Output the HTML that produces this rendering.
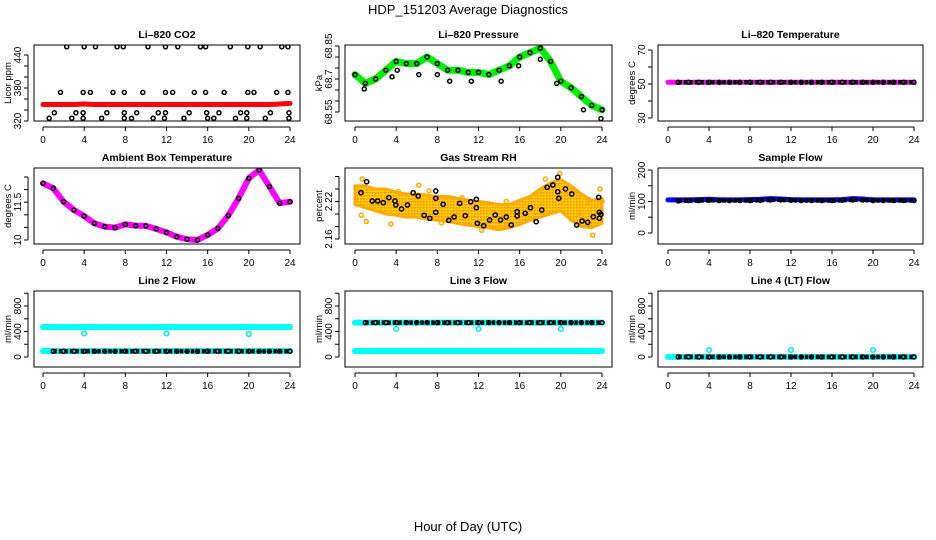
<!DOCTYPE html>
<html><head><meta charset="utf-8"><style>
body{margin:0;background:#fff;}
svg{display:block;font-family:"Liberation Sans",sans-serif;}
</style></head><body>
<svg id="chart" width="936" height="540" viewBox="0 0 936 540">
<text x="468" y="14" text-anchor="middle" font-size="13">HDP_151203  Average Diagnostics</text>
<text x="468" y="531" text-anchor="middle" font-size="13">Hour of Day (UTC)</text>
</svg>
<script>
// ---- data ----
const hours = [0,1,2,3,4,5,6,7,8,9,10,11,12,13,14,15,16,17,18,19,20,21,22,23,24];
const co2Red = [350,350,350,350,351,350,350,350,350,350,350,350,350,350,350,350,350,350,350,350,350,350,350,351,352];
const co2Hours = [2.3,4.0,5.1,7.2,7.8,10.2,11.9,13.1,15.3,15.8,18.2,19.9,21.1,23.2,23.8, 1.7,3.9,4.6,6.8,7.9,9.7,11.9,12.6,14.7,15.8,17.6,19.9,20.5,22.7,23.8, 1.1,3.2,3.9,6.2,7.9,9.1,11.2,11.9,14.2,15.9,17.1,19.2,19.8,22.1,23.9, 0.6,2.8,3.9,5.7,7.9,8.6,10.7,11.8,13.7,16.0,16.6,18.7,19.8,21.6,23.9];
const co2Black = [455,455,455,455,455,455,455,455,455,455,455,455,455,455,455, 372,372,372,372,372,372,372,372,372,372,372,372,372,372,372, 335,335,335,335,335,335,335,335,335,335,335,335,335,335,335, 325,325,325,325,325,325,325,325,325,325,325,325,325,325,325];
const presGreen = [68.72,68.68,68.70,68.74,68.78,68.77,68.77,68.80,68.77,68.74,68.74,68.73,68.73,68.72,68.74,68.76,68.80,68.82,68.84,68.78,68.69,68.66,68.62,68.58,68.56];
const presOutHours = [0.9,3.6,4.1,6.2,8.0,9.2,11.3,14.2,15.9,18.0,19.6,22.2,23.9];
const presOut = [68.655,68.71,68.74,68.72,68.72,68.69,68.69,68.69,68.76,68.79,68.68,68.56,68.52];
const tempMag = [51,51,51,51,51,51,51,51,51,51,51,51,51,51,51,51,51,51,51,51,51,51,51,51,51];
const tempBlack = [51,51,51,51,51,51,51,51,51,51,51,51,51,51,51,51,51,51,51,51,51,51,51,51,51];
const ambient = [12.25,12.05,11.52,11.19,10.95,10.66,10.53,10.49,10.62,10.57,10.56,10.44,10.30,10.13,10.03,10.00,10.20,10.46,10.97,11.65,12.45,12.78,12.12,11.46,11.52];
const rhUpper = [2.245,2.245,2.24,2.24,2.235,2.232,2.232,2.23,2.228,2.228,2.225,2.222,2.22,2.218,2.215,2.215,2.222,2.228,2.24,2.25,2.255,2.245,2.232,2.222,2.225];
const rhLower = [2.215,2.21,2.205,2.2,2.198,2.195,2.195,2.192,2.19,2.188,2.185,2.182,2.18,2.178,2.175,2.178,2.183,2.19,2.195,2.2,2.205,2.19,2.18,2.178,2.185];
const rhOutHours = [0.6,0.7,1.1,3.5,4.2,6.2,7.2,8.4,10.4,12.3,13.5,14.8,14.7,16.7,18.5,19.9,21.2,21.8,22.6,23.1,23.8,24];
const rhOut = [2.198,2.256,2.188,2.184,2.236,2.246,2.237,2.186,2.226,2.174,2.178,2.182,2.22,2.211,2.256,2.265,2.238,2.2,2.22,2.166,2.24,2.22];
const rhBlackHours = [0.58,1.13,1.68,2.20,2.75,3.29,3.88,3.97,4.52,5.10,5.65,6.14,6.72,7.27,7.85,7.85,7.85,8.56,9.11,9.63,10.17,10.72,11.24,11.79,11.79,11.89,12.50,13.08,13.63,14.15,14.70,15.18,15.76,15.76,16.54,17.05,17.60,18.15,18.67,19.22,19.70,19.70,19.80,20.45,21.06,21.54,22.06,22.61,23.16,23.68,23.74,23.74,23.90];
const rhBlack = [2.2341,2.2517,2.2208,2.2208,2.2181,2.2261,2.2208,2.2144,2.2080,2.2144,2.2341,2.2288,2.1979,2.1931,2.2368,2.2251,2.2027,2.2155,2.1899,2.1952,2.2171,2.1973,2.2197,2.2235,2.2101,2.1851,2.1813,2.1904,2.1984,2.1904,2.1952,2.1824,2.2037,2.1968,2.2011,2.2101,2.1877,2.2064,2.2427,2.2464,2.2587,2.2357,2.2251,2.2400,2.2320,2.1824,2.1888,2.1867,2.1957,2.2267,2.2027,2.1931,2.1995];
const sampleBlue = [105,105,105,106,107,105,105,105,106,107,109,108,106,105,105,105,105,106,109,108,105,105,105,105,105];
const sampleBlack = [102,102,103,103,104,103,103,103,103,104,105,105,104,103,103,103,103,104,105,105,103,103,103,103,103];
const line2Hi = [470,470,470,470,470,470,470,470,470,470,470,470,470,470,470,470,470,470,470,470,470,470,470,470,470];
const line2Lo = [95,95,95,95,95,95,95,95,95,95,95,95,95,95,95,95,95,95,95,95,95,95,95,95,95];
const line2Black = [90,90,90,90,90,90,90,90,90,90,90,90,90,90,90,90,90,90,90,90,90,90,90,90,90];
const line2Out = [370,370,360];
const line3Hi = [540,540,540,540,540,540,540,540,540,540,540,540,540,540,540,540,540,540,540,540,540,540,540,540,540];
const line3Lo = [95,95,95,95,95,95,95,95,95,95,95,95,95,95,95,95,95,95,95,95,95,95,95,95,95];
const line3Black = [540,540,540,540,540,540,540,540,540,540,540,540,540,540,540,540,540,540,540,540,540,540,540,540,540];
const line3Out = [440,440,440];
const line4Cyan = [2,2,2,2,2,2,2,2,2,2,2,2,2,2,2,2,2,2,2,2,2,2,2,2,2];
const line4Black = [2,2,2,2,2,2,2,2,2,2,2,2,2,2,2,2,2,2,2,2,2,2,2,2,2];
const line4Out = [110,110,110];
const outHours = [4,12,20];
const xTickLabels = ["0","4","8","12","16","20","24"];

const NS="http://www.w3.org/2000/svg";
const svg=document.getElementById('chart');
function el(tag,attrs,parent){const e=document.createElementNS(NS,tag);for(const k in attrs)e.setAttribute(k,attrs[k]);(parent||svg).appendChild(e);return e;}

const cols=[{x0:34,x1:300,h0:43,h24:290},{x0:345,x1:612,h0:355,h24:602},{x0:658,x1:923,h0:668,h24:914}];
const rows=[{y0:45,y1:121},{y0:168,y1:244},{y0:291,y1:367}];

function panel(c,r,title,ylabel,vA,pA,vB,pB,ticks,labels,name){
  const C=cols[c],R=rows[r];
  const g=el('g',{});
  
  
  const xs=h=>C.h0+h*(C.h24-C.h0)/24;
  const ys=v=>pA+(v-vA)*(pB-pA)/(vB-vA);
  const clipId='clip'+c+r;
  const cp=el('clipPath',{id:clipId},g);el('rect',{x:C.x0,y:R.y0,width:C.x1-C.x0,height:R.y1-R.y0},cp);
  const plot=el('g',{'clip-path':'url(#'+clipId+')'},g);
  
  
  const box=el('rect',{x:C.x0,y:R.y0,width:C.x1-C.x0,height:R.y1-R.y0,fill:'none',stroke:'#000','stroke-width':1},g);
  
  
  const t=el('text',{x:(C.x0+C.x1)/2,y:R.y0-7,'text-anchor':'middle','font-size':10.5,'font-weight':'bold'},g);t.textContent=title;
  
  
  const yl=el('text',{transform:`translate(${C.x0-23},${(R.y0+R.y1)/2}) rotate(-90)`,'text-anchor':'middle','font-size':9.5},g);yl.textContent=ylabel;
  
  
  el('line',{x1:xs(0),x2:xs(24),y1:R.y1+6,y2:R.y1+6,stroke:'#000'},g);
  xTickLabels.forEach((lab,i)=>{const h=i*4;el('line',{x1:xs(h),x2:xs(h),y1:R.y1+6,y2:R.y1+10,stroke:'#000'},g);
    const tl=el('text',{x:xs(h),y:R.y1+22,'text-anchor':'middle','font-size':10},g);tl.textContent=lab;
    
    });
  el('line',{x1:C.x0-6,x2:C.x0-6,y1:ys(ticks[0]),y2:ys(ticks[ticks.length-1]),stroke:'#000'},g);
  ticks.forEach(v=>{el('line',{x1:C.x0-10,x2:C.x0-6,y1:ys(v),y2:ys(v),stroke:'#000'},g);});
  labels.forEach(v=>{const tl=el('text',{transform:`translate(${C.x0-13},${ys(v)}) rotate(-90)`,'text-anchor':'middle','font-size':10},g);tl.textContent=v;
    
    });
  return {g:plot,xs,ys};
}
function band(P,hs,vals,color,w,name){
  const pts=hs.map((h,i)=>P.xs(h)+','+P.ys(vals[i])).join(' ');
  const e=el('polyline',{points:pts,fill:'none',stroke:color,'stroke-width':w,'stroke-linejoin':'round','stroke-linecap':'round'},P.g);
  
  
}
function circles(P,hs,vals,color,r,name,dense){
  if(dense){const pts=hs.map((h,i)=>P.xs(h)+','+P.ys(vals[i])).join(' ');
    const d=el('polyline',{points:pts,fill:'none',stroke:color,'stroke-width':4.5,'stroke-dasharray':'3.5 2'},P.g);
    
    }
  hs.forEach((h,i)=>{const c=el('circle',{cx:P.xs(h),cy:P.ys(vals[i]),r:r,fill:'none',stroke:color,'stroke-width':1.5},P.g);
    
    });
}

let P=panel(0,0,'Li\u2013820 CO2','Licor ppm',320,121,440,55,[320,340,360,380,400,420,440],[320,380,440],'co2');
band(P,hours,co2Red,'#f00',5,'co2-red-band');
circles(P,co2Hours,co2Black,'#000',2,'co2-black');
P=panel(1,0,'Li\u2013820 Pressure','kPa',68.55,112,68.85,46,[68.55,68.60,68.65,68.70,68.75,68.80,68.85],['68.55','68.70','68.85'].map(Number),'pressure');
band(P,hours,presGreen,'#00ee00',7,'pressure-green-band');
circles(P,hours,presGreen,'#000',2,'pressure-black');
circles(P,presOutHours,presOut,'#000',2,'pressure-outlier');
P=panel(2,0,'Li\u2013820 Temperature','degrees C',30,118,70,50,[30,40,50,60,70],[30,50,70],'li820-temp');
band(P,hours,tempMag,'#ff00ff',5,'temp-magenta-band');
circles(P,hours.slice(1),tempBlack.slice(1),'#000',2,'temp-black',true);
P=panel(0,1,'Ambient Box Temperature','degrees C',10.0,240,12.5,177,[10,10.5,11,11.5,12,12.5],[10.0,11.5],'ambient');
band(P,hours,ambient,'#ff00ff',6,'ambient-magenta-band');
circles(P,hours,ambient,'#000',2,'ambient-black');
P=panel(1,1,'Gas Stream RH','percent',2.16,239,2.26,176.5,[2.16,2.18,2.20,2.22,2.24,2.26],[2.16,2.22],'rh');
{const pts=hours.map((h,i)=>P.xs(h)+','+P.ys(rhUpper[i])).concat(hours.slice().reverse().map((h,j)=>P.xs(h)+','+P.ys(rhLower[24-j]))).join(' ');
 const defs=el('defs',{},P.g);const pat=el('pattern',{id:'rhpat',width:3,height:3,patternUnits:'userSpaceOnUse'},defs);
 el('rect',{width:3,height:3,fill:'#ffcc00'},pat);el('rect',{width:1.5,height:1.5,fill:'#ff8800'},pat);
 const poly=el('polygon',{points:pts,fill:'url(#rhpat)',stroke:'#ffaa00','stroke-width':3,'stroke-linejoin':'round'},P.g);
 
 }
circles(P,rhOutHours,rhOut,'#ffaa00',2,'rh-orange');
circles(P,rhBlackHours,rhBlack,'#000',2.1,'rh-black');
P=panel(2,1,'Sample Flow','ml/min',0,233,200,170,[0,50,100,150,200],[0,100,200],'sample-flow');
band(P,hours,sampleBlue,'#0000ff',5,'sample-blue-band');
circles(P,hours.slice(1),sampleBlack.slice(1),'#000',2,'sample-black',true);
const fT=[0,200,400,600,800,1000],fL=[0,400,800];
P=panel(0,2,'Line 2 Flow','ml/min',0,357,800,306,fT,fL,'line2');
band(P,hours,line2Hi,'#00ffff',6,'line2-cyan-high');
band(P,hours,line2Lo,'#00ffff',6,'line2-cyan-low');
circles(P,hours.slice(1),line2Black.slice(1),'#000',2,'line2-black',true);
circles(P,outHours,line2Out,'#00e5ee',2.3,'line2-outlier');
P=panel(1,2,'Line 3 Flow','ml/min',0,357,800,306,fT,fL,'line3');
band(P,hours,line3Hi,'#00ffff',6,'line3-cyan-high');
band(P,hours,line3Lo,'#00ffff',6,'line3-cyan-low');
circles(P,hours.slice(1),line3Black.slice(1),'#000',2,'line3-black',true);
circles(P,outHours,line3Out,'#00e5ee',2.3,'line3-outlier');
P=panel(2,2,'Line 4 (LT) Flow','ml/min',0,357,800,306,fT,fL,'line4');
band(P,hours,line4Cyan,'#00ffff',6,'line4-cyan');
circles(P,hours.slice(1),line4Black.slice(1),'#000',2,'line4-black',true);
circles(P,outHours,line4Out,'#00e5ee',2.3,'line4-outlier');
</script>
</body></html>
